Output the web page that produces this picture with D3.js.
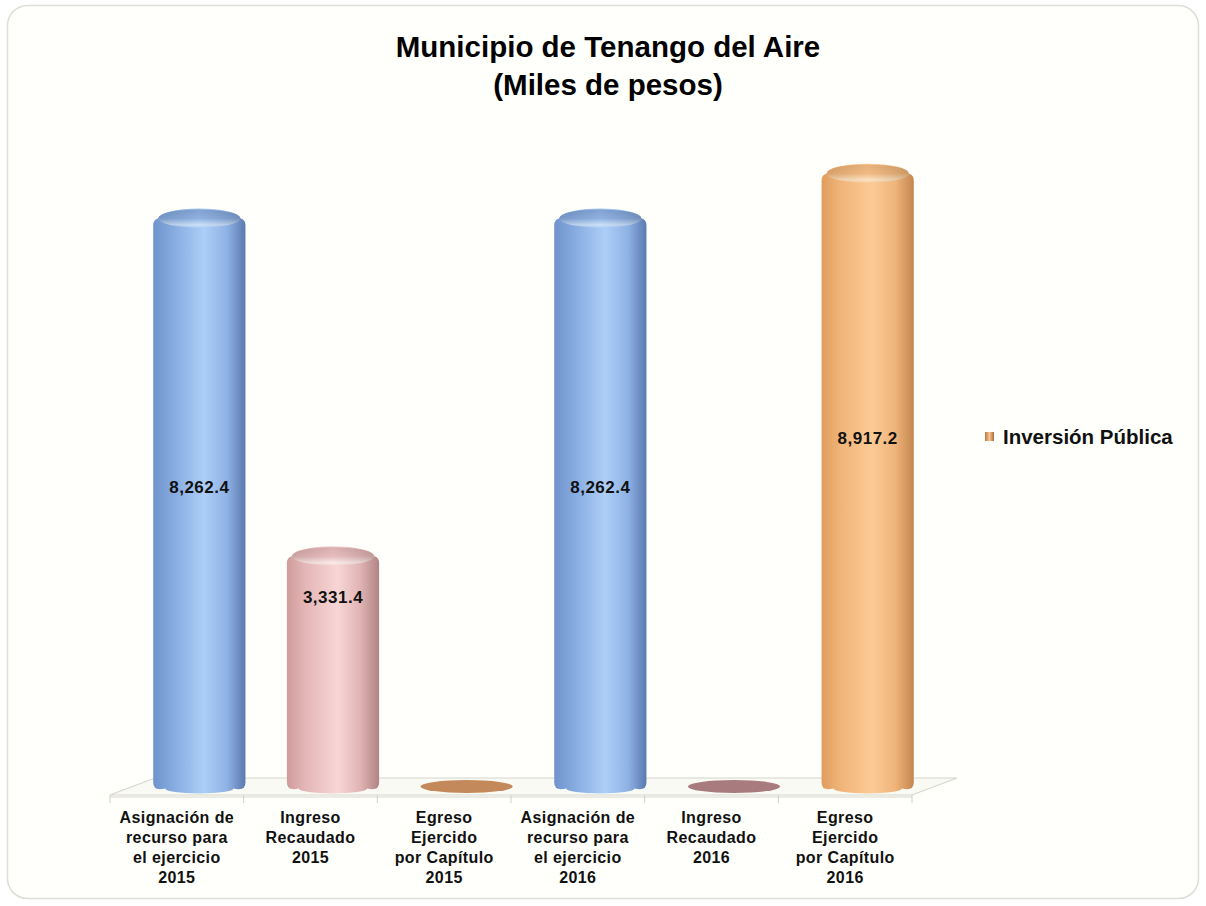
<!DOCTYPE html>
<html>
<head>
<meta charset="utf-8">
<script src="https://cdn.jsdelivr.net/npm/d3@7"></script>
<style>
  body { margin: 0; background: #ffffff; }
  svg { display: block; font-family: "Liberation Sans", Arial, sans-serif; }
</style>
</head>
<body>
<svg id="chart" width="1206" height="906"></svg>
<script>
// data
var categories = [
  ["Asignación de", "recurso para", "el ejercicio", "2015"],
  ["Ingreso", "Recaudado", "2015"],
  ["Egreso", "Ejercido", "por Capítulo", "2015"],
  ["Asignación de", "recurso para", "el ejercicio", "2016"],
  ["Ingreso", "Recaudado", "2016"],
  ["Egreso", "Ejercido", "por Capítulo", "2016"]
];
var values = [8262.4, 3331.4, 0, 8262.4, 0, 8917.2];
var labels = ["8,262.4", "3,331.4", "", "8,262.4", "", "8,917.2"];
var series = ["blue", "pink", "orange", "blue", "pink", "orange"];
var legendLabel = "Inversión Pública";
var titleLines = ["Municipio de Tenango del Aire", "(Miles de pesos)"];

// where the value label sits inside each cylinder (fraction of its height)
var labelFrac = [0.53, 0.83, 0, 0.53, 0, 0.57];

var width = 1206, height = 906;
var svg = d3.select("#chart");
var defs = svg.append("defs");

var palette = {
  blue:   { stops: ["#6f93cb", "#84a9de", "#accef7", "#8fb2e5", "#5a79af"], flat: "#8aa9d6", rim: "#7497cc", hi: "#c6ddfa" },
  pink:   { stops: ["#cf9c9c", "#e4b6b6", "#f8d6d6", "#e0b3b3", "#b08484"], flat: "#a87c7e", rim: "#d6a8a8", hi: "#fce6e6" },
  orange: { stops: ["#e09c5e", "#f0b478", "#fcca96", "#efb47a", "#c48650"], flat: "#c4895a", rim: "#e5a86c", hi: "#fde0bd" }
};

Object.keys(palette).forEach(function(k) {
  var g = defs.append("linearGradient").attr("id", "body-" + k)
      .attr("x1", 0).attr("x2", 1).attr("y1", 0).attr("y2", 0);
  [0, 0.2, 0.55, 0.8, 1].forEach(function(o, i) {
    g.append("stop").attr("offset", o).attr("stop-color", palette[k].stops[i]);
  });
  // top cap: darker rim at the back, bright bevel at the front
  var t = defs.append("linearGradient").attr("id", "top-" + k)
      .attr("x1", 0).attr("x2", 0).attr("y1", 0).attr("y2", 1);
  t.append("stop").attr("offset", 0).attr("stop-color", palette[k].rim);
  t.append("stop").attr("offset", 0.5).attr("stop-color", palette[k].stops[1]);
  t.append("stop").attr("offset", 0.85).attr("stop-color", palette[k].hi);
  t.append("stop").attr("offset", 1).attr("stop-color", palette[k].stops[2]);
  var s = defs.append("linearGradient").attr("id", "cap-" + k)
      .attr("x1", 0).attr("x2", 1).attr("y1", 0).attr("y2", 0);
  s.append("stop").attr("offset", 0).attr("stop-color", "#000").attr("stop-opacity", 0.1);
  s.append("stop").attr("offset", 0.5).attr("stop-color", "#fff").attr("stop-opacity", 0.1);
  s.append("stop").attr("offset", 1).attr("stop-color", "#000").attr("stop-opacity", 0.15);
});

var lg = defs.append("linearGradient").attr("id", "legend-grad")
    .attr("x1", 0).attr("x2", 1).attr("y1", 0).attr("y2", 0);
lg.append("stop").attr("offset", 0).attr("stop-color", "#b87a44");
lg.append("stop").attr("offset", 0.5).attr("stop-color", "#f7c593");
lg.append("stop").attr("offset", 1).attr("stop-color", "#a86c3a");

// frame
svg.append("rect")
    .attr("x", 7.5).attr("y", 5.5).attr("width", 1191).attr("height", 893)
    .attr("rx", 20)
    .attr("fill", "#fffffb")
    .attr("stroke", "#deded6")
    .attr("stroke-width", 1.5);

// title
svg.append("g").selectAll("text").data(titleLines).join("text")
    .attr("x", 608)
    .attr("y", function(d, i) { return 57 + i * 38; })
    .attr("text-anchor", "middle")
    .attr("font-size", 29.5)
    .attr("font-weight", "bold")
    .attr("fill", "#000")
    .text(function(d) { return d; });

// scales
var plotLeft = 110, plotRight = 912, baseY = 795;
var depthX = 45, depthY = -17;

var x = d3.scaleBand()
    .domain(d3.range(values.length))
    .range([plotLeft, plotRight])
    .paddingInner(0).paddingOuter(0);

var y = d3.scaleLinear()
    .domain([0, 10000])
    .range([baseY + depthY / 2, baseY + depthY / 2 - 685]);

// floor
var floor = svg.append("g");
floor.append("path")
    .attr("d", "M" + plotLeft + "," + baseY +
               "L" + (plotLeft + depthX) + "," + (baseY + depthY) +
               "L" + (plotRight + depthX) + "," + (baseY + depthY) +
               "L" + plotRight + "," + baseY + "Z")
    .attr("fill", "#fafaf4")
    .attr("stroke", "#d6d6ce")
    .attr("stroke-width", 1.2);
floor.append("line")
    .attr("x1", plotLeft).attr("x2", plotRight)
    .attr("y1", baseY + 2).attr("y2", baseY + 2)
    .attr("stroke", "#e4e4dc").attr("stroke-width", 1.5);

// category axis ticks
var ticks = x.domain().map(function(d) { return x(d); }).concat([plotRight]);
floor.selectAll("line.tick").data(ticks).join("line")
    .attr("class", "tick")
    .attr("x1", function(d) { return d; }).attr("x2", function(d) { return d; })
    .attr("y1", baseY).attr("y2", baseY + 8)
    .attr("stroke", "#d0d0c8").attr("stroke-width", 1);

// cylinders
var bw = x.bandwidth() * 0.69;
var ryTop = 10, ryBot = 7, bev = 5;

var bars = svg.append("g").selectAll("g.bar")
    .data(values.map(function(v, i) { return { v: v, i: i, s: series[i] }; }))
    .join("g")
    .attr("class", "bar");

bars.each(function(d) {
  var g = d3.select(this);
  var cx = x(d.i) + x.bandwidth() / 2 + depthX / 2;
  var x0 = cx - bw / 2, x1 = cx + bw / 2;
  var yb = y(0), yt = y(d.v);
  if (d.v <= 0) {
    g.append("ellipse")
        .attr("cx", cx).attr("cy", yb)
        .attr("rx", bw / 2).attr("ry", 6.5)
        .attr("fill", palette[d.s].flat);
    return;
  }
  // body with rounded bottom and a bevelled shoulder at the top
  g.append("path")
      .attr("d", "M" + x0 + "," + (yb - 4) +
                 "Q" + x0 + "," + (yb + ryBot - 2) + " " + (x0 + 12) + "," + (yb + 2) +
                 "A" + (bw / 2 - 12) + "," + (ryBot - 2) + " 0 0 0 " + (x1 - 12) + "," + (yb + 2) +
                 "Q" + x1 + "," + (yb + ryBot - 2) + " " + x1 + "," + (yb - 4) +
                 "L" + x1 + "," + (yt + bev) +
                 "Q" + x1 + "," + (yt - 1) + " " + (x1 - bev) + "," + (yt - 2) +
                 "A" + (bw / 2 - bev) + "," + ryTop + " 0 0 0 " + (x0 + bev) + "," + (yt - 2) +
                 "Q" + x0 + "," + (yt - 1) + " " + x0 + "," + (yt + bev) + "Z")
      .attr("fill", "url(#body-" + d.s + ")");
  // top face
  g.append("ellipse")
      .attr("cx", cx).attr("cy", yt - 2)
      .attr("rx", bw / 2 - bev).attr("ry", ryTop - 1)
      .attr("fill", "url(#top-" + d.s + ")");
  g.append("ellipse")
      .attr("cx", cx).attr("cy", yt - 2)
      .attr("rx", bw / 2 - bev).attr("ry", ryTop - 1)
      .attr("fill", "url(#cap-" + d.s + ")");
});

// value labels
bars.filter(function(d) { return d.v > 0; })
  .append("text")
    .attr("x", function(d) { return x(d.i) + x.bandwidth() / 2 + depthX / 2; })
    .attr("y", function(d) { return y(d.v * labelFrac[d.i]) + 6; })
    .attr("text-anchor", "middle")
    .attr("font-size", 17)
    .attr("font-weight", "bold")
    .attr("letter-spacing", 0.5)
    .attr("fill", "#111")
    .text(function(d) { return labels[d.i]; });

// category labels
var cat = svg.append("g").selectAll("text.cat").data(categories).join("text")
    .attr("class", "cat")
    .attr("text-anchor", "middle")
    .attr("font-size", 16)
    .attr("font-weight", "bold")
    .attr("letter-spacing", 0.4)
    .attr("fill", "#111");
cat.each(function(lines, i) {
  d3.select(this).selectAll("tspan").data(lines).join("tspan")
      .attr("x", x(i) + x.bandwidth() / 2)
      .attr("y", function(d, j) { return 823 + j * 20; })
      .text(function(d) { return d; });
});

// legend
var legend = svg.append("g").attr("transform", "translate(985,444)");
legend.append("rect")
    .attr("x", 0).attr("y", -12).attr("width", 9).attr("height", 9)
    .attr("fill", "url(#legend-grad)");
legend.append("text")
    .attr("x", 18).attr("y", 0)
    .attr("font-size", 20.5)
    .attr("font-weight", "bold")
    .attr("fill", "#111")
    .text(legendLabel);
</script>
</body>
</html>
